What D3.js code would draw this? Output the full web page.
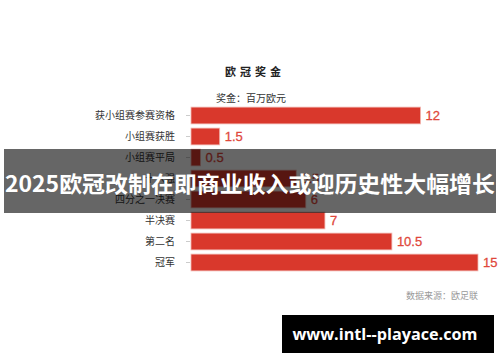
<!DOCTYPE html>
<html>
<head>
<meta charset="utf-8">
<script src="https://cdn.jsdelivr.net/npm/d3@7/dist/d3.min.js"></script>
<style>
  html, body { margin: 0; padding: 0; background: #fff; }
  svg { display: block; }
  text { font-family: "Noto Sans CJK SC", "Noto Sans", sans-serif; }
</style>
</head>
<body>
<svg id="chart" width="500" height="362"></svg>
<script>
// 欧冠各阶段奖金（百万欧元）
const categories = ["获小组赛参赛资格", "小组赛获胜", "小组赛平局", "十六强", "四分之一决赛", "半决赛", "第二名", "冠军"];
const values = [12, 1.5, 0.5, 5.5, 6, 7, 10.5, 15];
const valueLabels = ["12", "1.5", "0.5", "5.5", "6", "7", "10.5", "15"];

const chartTitle = "欧冠奖金";
const unitLabel = "奖金：百万欧元";
const sourceLabel = "数据来源：欧足联";
const bannerText = "2025欧冠改制在即商业收入或迎历史性大幅增长";
const siteText = "www.intl--playace.com";

const svg = d3.select("#chart");

const x = d3.scaleLinear().domain([0, 15]).range([191, 478]);
const y = d3.scaleBand().domain(categories).range([105, 273]).paddingInner(0.2).paddingOuter(0.1);

// 标题与单位
svg.append("text")
  .attr("x", 255).attr("y", 76)
  .attr("text-anchor", "middle")
  .attr("font-size", 11).attr("font-weight", "bold")
  .attr("letter-spacing", 4)
  .attr("fill", "#222")
  .text(chartTitle);

svg.append("text")
  .attr("x", 251).attr("y", 102)
  .attr("text-anchor", "middle")
  .attr("font-size", 10)
  .attr("fill", "#333")
  .text(unitLabel);

// 纵轴（类别）
const yAxis = d3.axisLeft(y).tickSize(4).tickPadding(11);
const gy = svg.append("g").attr("transform", "translate(190,0)").call(yAxis);
gy.select(".domain").remove();
gy.selectAll(".tick line").attr("stroke", "#ccc");
gy.selectAll(".tick text")
  .attr("font-size", 10)
  .attr("fill", "#333")
  .style("font-family", "'Noto Sans CJK SC', sans-serif");

// 条形
svg.append("g").selectAll("rect")
  .data(values)
  .join("rect")
  .attr("x", x(0))
  .attr("y", (d, i) => y(categories[i]))
  .attr("width", d => x(d) - x(0))
  .attr("height", y.bandwidth())
  .attr("fill", "#d9382c")
  .attr("stroke", "#f2b8b2")
  .attr("stroke-width", 0.8);

// 数值标签
svg.append("g").selectAll("text")
  .data(values)
  .join("text")
  .attr("x", d => x(d) + 5)
  .attr("y", (d, i) => y(categories[i]) + y.bandwidth() / 2)
  .attr("dy", "0.36em")
  .attr("font-size", 13)
  .attr("fill", "#e0473b")
  .attr("stroke", "#e0473b")
  .attr("stroke-width", 0.3)
  .style("font-family", "'Liberation Sans', Arial, sans-serif")
  .text((d, i) => valueLabels[i]);

// 数据来源
svg.append("text")
  .attr("x", 478).attr("y", 299)
  .attr("text-anchor", "end")
  .attr("font-size", 9)
  .attr("fill", "#999")
  .text(sourceLabel);

// 半透明标题横幅
svg.append("rect")
  .attr("x", 4).attr("y", 149)
  .attr("width", 492).attr("height", 64)
  .attr("fill", "rgba(0,0,0,0.6)");

svg.append("text")
  .attr("x", 250).attr("y", 184)
  .attr("dy", "0.36em")
  .attr("text-anchor", "middle")
  .attr("font-size", 22).attr("font-weight", "bold")
  .attr("fill", "#fff")
  .attr("textLength", 490)
  .attr("lengthAdjust", "spacingAndGlyphs")
  .text(bannerText);

// 网址标签
svg.append("rect")
  .attr("x", 282).attr("y", 315)
  .attr("width", 212).attr("height", 38)
  .attr("fill", "#000");

svg.append("text")
  .attr("x", 385).attr("y", 334)
  .attr("dy", "0.36em")
  .attr("text-anchor", "middle")
  .attr("font-size", 16).attr("font-weight", "bold")
  .attr("fill", "#fff")
  .attr("textLength", 185)
  .attr("lengthAdjust", "spacingAndGlyphs")
  .style("font-family", "'Open Sans', 'DejaVu Sans', sans-serif")
  .text(siteText);
</script>
</body>
</html>
